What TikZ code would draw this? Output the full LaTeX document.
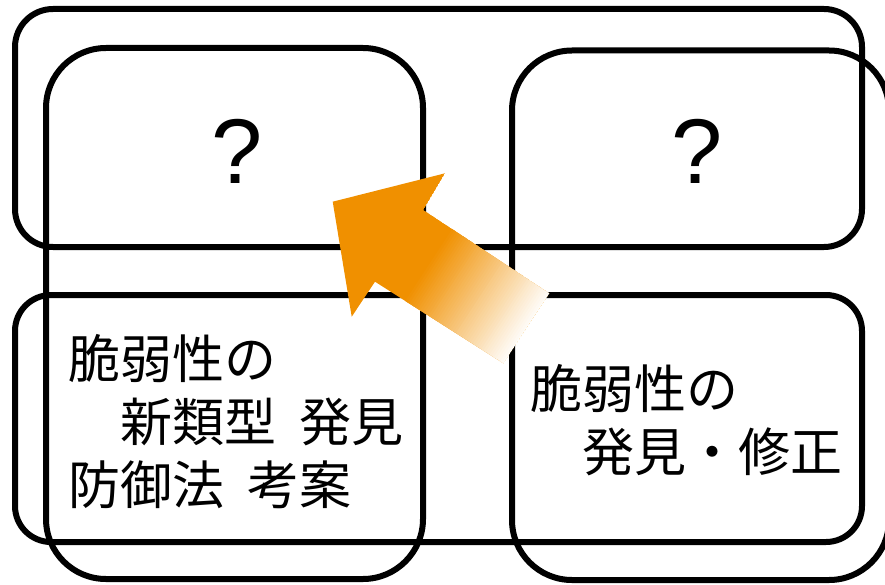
\documentclass[tikz,border=0pt]{standalone}
\usepackage{fontspec}
\newfontfamily\jpfont{Noto Sans CJK JP}
\newfontfamily\qfont{Liberation Sans}
\definecolor{arroworange}{RGB}{240,144,0}
\begin{document}
\begin{tikzpicture}[x=1pt,y=-1pt,
  frame/.style={draw=black, line width=6pt, rectangle, inner sep=0pt},
  jp/.style={font=\jpfont\fontsize{52}{63}\selectfont, inner sep=0pt, anchor=base west},
  qm/.style={font=\qfont\fontsize{92}{100}\selectfont, inner sep=0pt}]
\useasboundingbox (0,0) rectangle (885,585);
% frames
\begin{scope}
\clip (0,0) rectangle (885,585);
\node[frame, rounded corners=38pt, minimum width=847pt, minimum height=238pt] (topband) at (438.5,128) {};
\node[frame, rounded corners=36pt, minimum width=847pt, minimum height=247pt] (botband) at (438.5,418.5) {};
\node[frame, rounded corners=60pt, minimum width=377pt, minimum height=531pt] (leftcol) at (234.5,313.5) {};
\node[frame, rounded corners=60pt, minimum width=377pt, minimum height=529.5pt] (rightcol) at (700.5,315.25) {};
\end{scope}
% texts
\node[qm] (q1) at (236.7,151.5) {?};
\node[qm] (q2) at (697.5,151.5) {?};
\node[jp] (l1) at (68,378) {脆弱性の};
\node[jp] (l2) at (68,441) {\hspace*{1em}新類型\hspace{0.45em}発見};
\node[jp] (l3) at (68,504) {防御法\hspace{0.45em}考案};
\node[jp] (r1) at (530,408) {脆弱性の};
\node[jp] (r2) at (530,471) {\hspace*{1em}発見・修正};
% arrow
\coordinate (tip) at (332.7,201.7);
\coordinate (h1) at (445,173.3);
\coordinate (n1) at (423.3,210);
\coordinate (e1) at (549.3,293.3);
\coordinate (e2) at (503.3,363.3);
\coordinate (n2) at (375,281.7);
\coordinate (h2) at (351.7,316.7);
\begin{scope}
  \clip (tip) -- (h1) -- (n1) -- (e1) -- (e2) -- (n2) -- (h2) -- cycle;
  \fill[arroworange] (tip) -- (h1) -- (n1) -- (e1) -- (e2) -- (n2) -- (h2) -- cycle;
  \foreach \i in {0,...,49} {
    \pgfmathsetmacro{\ta}{115+2.5*\i}
    \pgfmathsetmacro{\tb}{\ta+3.5}
    \pgfmathtruncatemacro{\p}{max(0,min(100,100*(1-(\ta+1.25-115)/120)))}
    \pgfmathsetmacro{\xa}{332.7+0.837*\ta+54.7}
    \pgfmathsetmacro{\ya}{201.7+0.547*\ta-83.7}
    \pgfmathsetmacro{\xb}{332.7+0.837*\ta-54.7}
    \pgfmathsetmacro{\yb}{201.7+0.547*\ta+83.7}
    \pgfmathsetmacro{\xc}{332.7+0.837*\tb-54.7}
    \pgfmathsetmacro{\yc}{201.7+0.547*\tb+83.7}
    \pgfmathsetmacro{\xd}{332.7+0.837*\tb+54.7}
    \pgfmathsetmacro{\yd}{201.7+0.547*\tb-83.7}
    \fill[arroworange!\p!white] (\xa,\ya) -- (\xb,\yb) -- (\xc,\yc) -- (\xd,\yd) -- cycle;
  }
\end{scope}
\end{tikzpicture}
\end{document}
